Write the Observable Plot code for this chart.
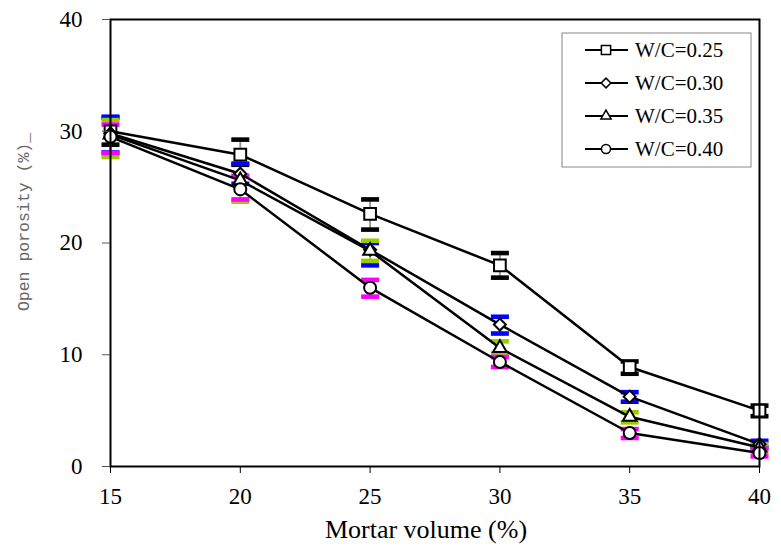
<!DOCTYPE html>
<html><head><meta charset="utf-8">
<script src="https://cdn.jsdelivr.net/npm/d3@7"></script>
<script src="https://cdn.jsdelivr.net/npm/@observablehq/plot@0.6"></script>
<style>body{margin:0;background:#fff} svg{display:block}</style>
</head><body><div id="chart"></div>
<script>
// ---- data ----
const mortar = [15, 20, 25, 30, 35, 40];
const yTicks = [0, 10, 20, 30, 40];
const seriesNames = ["W/C=0.25", "W/C=0.30", "W/C=0.35", "W/C=0.40"];
const errColors = ["#000000", "#0000ff", "#99cc00", "#ff00ff"];

const wc025 = [30.0, 27.9, 22.6, 18.0, 8.9, 5.0];
const lo025 = [28.8, 27.0, 21.2, 16.9, 8.3, 4.5];
const hi025 = [31.2, 29.25, 23.9, 19.1, 9.4, 5.45];

const wc030 = [29.8, 26.2, 19.4, 12.7, 6.25, 2.0];
const lo030 = [28.1, 25.3, 18.0, 11.9, 5.8, 1.7];
const hi030 = [31.3, 27.1, 20.0, 13.4, 6.65, 2.3];

const wc035 = [29.7, 25.6, 19.3, 10.6, 4.45, 1.7];
const lo035 = [27.7, 23.7, 18.4, 10.1, 3.95, 1.3];
const hi035 = [31.0, 26.0, 20.2, 11.2, 4.85, 2.0];

const wc040 = [29.5, 24.8, 16.0, 9.35, 3.0, 1.2];
const lo040 = [28.05, 23.9, 15.2, 8.9, 2.55, 0.9];
const hi040 = [30.6, 26.0, 16.7, 9.8, 3.35, 1.6];

const values = [wc025, wc030, wc035, wc040];
const lows = [lo025, lo030, lo035, lo040];
const highs = [hi025, hi030, hi035, hi040];

const xLabel = "Mortar volume (%)";
const yLabel = "Open porosity (%)_";

// ---- build table ----
const rows = [];
seriesNames.forEach((s, k) => {
  mortar.forEach((m, i) => {
    rows.push({series: s, k, x: m, y: values[k][i], lo: lows[k][i], hi: highs[k][i]});
  });
});
const bySeries = k => rows.filter(d => d.k === k);

const capSymbol = {draw(ctx) { ctx.rect(-9, -2.3, 18, 4.6); }};

const symbols = ["square", "diamond2", "triangle2", "circle"];
const radii = [6.6, 5.4, 6.5, 6];

const errMarks = [];
[0, 1, 2, 3].forEach(k => {
  const d = bySeries(k);
  errMarks.push(Plot.ruleX(d, {x: "x", y1: "lo", y2: "hi", stroke: errColors[k], strokeOpacity: 0.4, strokeWidth: 2}));
  errMarks.push(Plot.dot(d, {x: "x", y: "lo", symbol: capSymbol, fill: errColors[k], stroke: "none"}));
  errMarks.push(Plot.dot(d, {x: "x", y: "hi", symbol: capSymbol, fill: errColors[k], stroke: "none"}));
});

const lineMarks = [0, 1, 2, 3].map(k =>
  Plot.line(bySeries(k), {x: "x", y: "y", stroke: "black", strokeWidth: 2.5}));
const dotMarks = [0, 1, 2, 3].map(k =>
  Plot.dot(bySeries(k), {x: "x", y: "y", symbol: symbols[k], r: radii[k], fill: "white", stroke: "black", strokeWidth: 2}));

const SERIF = "'Liberation Serif', 'Times New Roman', serif";

const plot = Plot.plot({
  width: 781,
  height: 560,
  marginLeft: 110,
  marginRight: 22,
  marginTop: 19,
  marginBottom: 94,
  style: {"font-family": SERIF, "font-size": "23px", "background": "white", "color": "black"},
  x: {domain: [15, 40]},
  y: {domain: [0, 40]},
  marks: [
    ...errMarks,
    ...lineMarks,
    ...dotMarks,
    Plot.frame({stroke: "black", strokeWidth: 2}),
    Plot.axisX({ticks: mortar, tickSize: 7, tickPadding: 14, label: null, stroke: "black"}),
    Plot.axisY({ticks: yTicks, tickSize: 8, tickPadding: 20, label: null, stroke: "#555"}),
    Plot.text([xLabel], {text: d => d, frameAnchor: "bottom", dy: 71, dx: -9, fill: "black"})
  ]
});
document.getElementById("chart").appendChild(plot);

const svg = d3.select(plot);
svg.style("font-family", SERIF).style("font-size", "23px");
// force serif face for every text produced by Plot
svg.selectAll("g").each(function() {
  const g = d3.select(this);
  if (g.attr("font-family")) g.attr("font-family", null);
  if (g.attr("font-size")) g.attr("font-size", null);
});
svg.attr("font-family", null).attr("font-size", null);
svg.selectAll("text").style("font-family", SERIF).style("font-size", "23px");
svg.selectAll("text").filter(function() { return this.textContent === xLabel; })
  .style("font-size", "26px");

// ---- y label ----
svg.append("text")
  .attr("transform", "translate(23,222) rotate(-90)")
  .attr("text-anchor", "middle").attr("dy", "0.35em")
  .style("font-family", "'Liberation Mono', monospace").style("font-size", "16.5px")
  .attr("fill", "#666").text(yLabel);

// ---- legend ----
const lg = svg.append("g").attr("text-anchor", "start");
lg.append("rect").attr("x", 562).attr("y", 33).attr("width", 189).attr("height", 134)
  .attr("fill", "white").attr("stroke", "#888").attr("stroke-width", 1);
const d3sym = [d3.symbolSquare, d3.symbolDiamond2, d3.symbolTriangle2, d3.symbolCircle];
const legSizes = [85, 60, 75, 65];
seriesNames.forEach((s, k) => {
  const yy = 50 + k * 33;
  lg.append("line").attr("x1", 585).attr("x2", 628).attr("y1", yy).attr("y2", yy)
    .attr("stroke", "black").attr("stroke-width", 2);
  lg.append("path").attr("d", d3.symbol(d3sym[k], legSizes[k])())
    .attr("transform", `translate(606,${yy})`).attr("fill", "white").attr("stroke", "black").attr("stroke-width", 1.5);
  lg.append("text").attr("x", 635).attr("y", yy).attr("dy", "0.35em").attr("text-anchor", "start")
    .style("font-family", SERIF).style("font-size", "21px").attr("fill", "black").text(s);
});
</script>
</body></html>
